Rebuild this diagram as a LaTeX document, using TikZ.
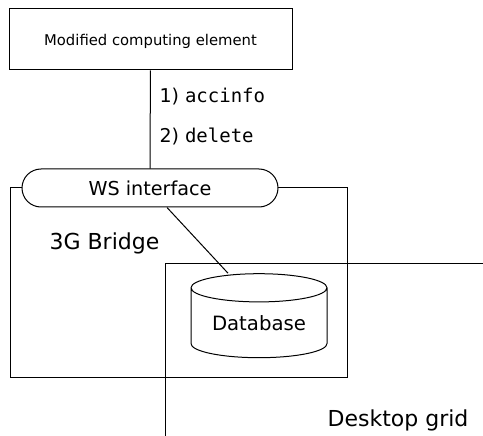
\documentclass[tikz,border=0pt]{standalone}
\usepackage{fontspec}
\setmainfont{DejaVu Sans}
\setmonofont{DejaVu Sans Mono}
\usetikzlibrary{shapes.geometric, shapes.misc, positioning}

\tikzset{
  elembox/.style={draw, rectangle, inner sep=0pt, font=\fontsize{14.8}{18}\selectfont},
  wsbox/.style={draw, rounded rectangle, fill=white, inner sep=0pt, font=\fontsize{19.2}{23}\selectfont},
  dbstore/.style={draw, cylinder, shape border rotate=90, inner sep=0pt, font=\fontsize{19.7}{24}\selectfont},
  biglabel/.style={inner sep=0pt, anchor=base, font=\fontsize{22}{26}\selectfont},
  steplabel/.style={inner sep=0pt, anchor=base west, font=\fontsize{19}{23}\selectfont}
}

\begin{document}
\begin{tikzpicture}[x=1pt, y=-1pt, line width=1pt]
    \useasboundingbox (0,0) rectangle (483,436);
    % 3G Bridge, its top edge runs under the WS interface
    \node[draw, inner sep=0pt, minimum width=337pt, minimum height=189pt] (bridge) at (178.5,282.5) {};
    \node[biglabel] (bridgename) at (104.5,250) {3G Bridge};
    % Desktop grid, open to the right and below
    \draw (483,264) -- (165,264) -- (165,436);
    \node[biglabel] (gridname) at (398,426) {Desktop grid};
    \node[elembox, minimum width=283pt, minimum height=61pt, text depth=0pt] (mce) at (150.5,39.5) {Modified computing element};
    \node[wsbox, minimum width=256pt, minimum height=38pt] (ws) at (150,188) {WS interface};
    \node[dbstore, aspect=0.3, minimum width=136pt, minimum height=84pt] (db) at (259,323) {Database};
    \draw (mce) -- (ws);
    \node[steplabel] (call1) at (159,103) {1) \texttt{accinfo}};
    \node[steplabel] (call2) at (159,143) {2) \texttt{delete}};
    \draw ([xshift=17pt]ws.south) -- ([xshift=-31pt]db.top);
\end{tikzpicture}
\end{document}
